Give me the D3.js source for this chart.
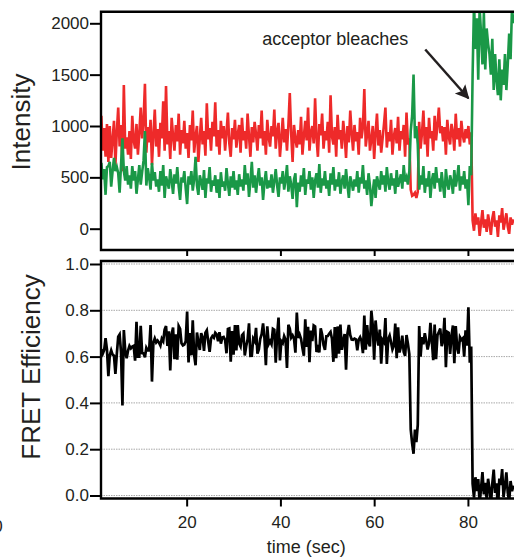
<!DOCTYPE html>
<html>
<head>
<meta charset="utf-8">
<script src="https://cdn.jsdelivr.net/npm/d3@7"></script>
<style>
  body { margin: 0; background: #fff; }
  svg { display: block; font-family: "Liberation Sans", Arial, Helvetica, sans-serif; }
  .tick text { fill: #231f20; }
</style>
</head>
<body>
<div id="chart"></div>
<script>
// sampling of the traces (sec)
var startTime = 1.8;
var frameInterval = 0.3;

// acceptor (red) intensity, one value per frame
var acceptor = [
  1100, 760, 980, 700, 1020, 650, 1000, 690, 870, 1050, 620, 940, 1180, 800, 1010, 560, 1400, 780, 890, 720,
  950, 680, 1100, 860, 780, 1020, 720, 930, 1180, 880, 1050, 1410, 740, 990, 840, 1060, 620, 910, 1160, 800,
  970, 700, 1030, 880, 1240, 760, 1390, 820, 950, 680, 1080, 900, 760, 1010, 850, 1120, 720, 960, 830, 1050,
  780, 930, 690, 1010, 860, 1150, 740, 900, 1000, 650, 880, 1080, 820, 950, 710, 1220, 870, 980, 760, 1040,
  900, 1230, 800, 960, 720, 1050, 880, 1000, 760, 940, 1130, 830, 700, 980, 870, 1060, 790, 920, 1010, 740,
  1080, 860, 950, 780, 1120, 900, 700, 990, 840, 1040, 920, 760, 1010, 880, 1150, 810, 950, 720, 1060, 890,
  800, 1000, 900, 1160, 780, 950, 1030, 700, 880, 1080, 840, 970, 760, 1010, 1320, 920, 650, 1010, 870, 790,
  960, 820, 1090, 720, 900, 1050, 860, 1180, 760, 940, 1000, 830, 1270, 880, 700, 1020, 910, 1120, 780, 950,
  860, 1040, 740, 1300, 900, 820, 990, 700, 1110, 870, 960, 780, 1050, 900, 690, 1000, 840, 1150, 930, 760,
  1010, 850, 940, 720, 1080, 880, 990, 1360, 800, 920, 1050, 760, 870, 1000, 680, 930, 1120, 810, 960, 740,
  880, 1020, 1180, 790, 940, 850, 1060, 720, 900, 980, 830, 1090, 760, 950, 870, 1010, 700, 1130, 820, 880,
  380, 320, 330, 350, 300, 360, 1040, 780, 930, 1150, 820, 990, 700, 1080, 880, 950, 760, 1100, 860, 1010,
  1180, 930, 1000, 850, 990, 720, 1060, 900, 820, 1020, 940, 760, 1120, 870, 980, 800, 1050, 910, 840, 970,
  880, 1000, 820, 940,
  80, -20, 150, 40, 110, -70, 60, 180, 10, 90, -30, 140, 50, -60, 100, 170, 20, 80, -80, 130,
  60, 200, -10, 70, 150, 20, -50, 110, 40, 90
];

// donor (green) intensity, one value per frame
var donor = [
  640, 480, 580, 330, 600, 610, 650, 410, 560, 690, 560, 600, 540, 350, 620, 880, 560, 470, 610, 430,
  520, 390, 610, 470, 560, 340, 480, 620, 430, 550, 660, 950, 420, 590, 500, 380, 640, 470, 550, 410,
  480, 360, 560, 420, 620, 300, 510, 450, 390, 580, 470, 340, 530, 440, 600, 410, 280, 500, 450, 560,
  390, 240, 510, 430, 560, 370, 480, 700, 420, 330, 520, 460, 380, 570, 300, 490, 440, 600, 360, 470,
  420, 520, 350, 480, 300, 550, 410, 460, 370, 590, 440, 320, 510, 400, 560, 380, 470, 330, 530, 410,
  480, 370, 620, 430, 540, 310, 460, 650, 400, 520, 350, 480, 590, 420, 500, 280, 450, 560, 390, 470,
  400, 530, 350, 460, 580, 420, 310, 500, 440, 560, 380, 470, 620, 360, 510, 430, 290, 480, 540, 210,
  450, 360, 520, 410, 590, 330, 480, 440, 560, 380, 500, 300, 470, 540, 400, 630, 350, 490, 420, 560,
  390, 470, 320, 540, 430, 600, 370, 480, 410, 550, 340, 460, 520, 390, 580, 430, 300, 510, 450, 370,
  480, 410, 560, 350, 500, 440, 620, 390, 470, 330, 540, 420, 220, 360, 480, 300, 510, 440, 380, 560,
  430, 520, 360, 600, 450, 380, 540, 420, 490, 340, 570, 410, 470, 530, 390, 620, 460, 500, 430, 560,
  950, 1100, 1500, 880, 1000, 820, 380, 520, 430, 610, 350, 490, 410, 560, 300, 470, 540, 390, 600, 450,
  490, 360, 550, 420, 300, 580, 440, 380, 520, 460, 340, 570, 410, 490, 620, 370, 510, 430, 560, 390,
  480, 230, 610, 520,
  1500, 2200, 1750, 2050, 1450, 2150, 1900, 1600, 2100, 1550, 1950, 1800, 1700, 1500, 1850, 1350, 1700, 1450, 1300, 1650,
  1250, 1550, 1400, 1700, 1350, 1600, 1900, 1650, 2150, 2000
];

var intensityTicks = [0, 500, 1000, 1500, 2000];
var fretTicks = [0, 0.2, 0.4, 0.6, 0.8, 1.0];
var timeTicks = [20, 40, 60, 80];

var annotation = { text: 'acceptor bleaches', x: 36.1, y: 1790, fromX: 70.9, fromY: 1745, toX: 80.1, toY: 1270 };

var width = 514, height = 558;
var frames = acceptor.map(function(a, i) {
  return { t: startTime + i * frameInterval, acceptor: a, donor: donor[i] };
});

var svg = d3.select('#chart').append('svg')
  .attr('width', width)
  .attr('height', height);

var textColor = '#231f20';

var x = d3.scaleLinear().domain([0, 90]).range([92.9, 514.8]);
var yInt = d3.scaleLinear().domain([0, 2000]).range([228.7, 23.3]);
var yFret = d3.scaleLinear().domain([0, 1]).range([495.5, 264]);

var panelTop = { left: 101, top: 11.8, bottom: 250 };
var panelBottom = { left: 101, top: 261, bottom: 498.5 };

// clip regions for the traces
var defs = svg.append('defs');
defs.append('clipPath').attr('id', 'clip-top').append('rect')
  .attr('x', panelTop.left).attr('y', panelTop.top)
  .attr('width', width - panelTop.left).attr('height', panelTop.bottom - panelTop.top);
defs.append('clipPath').attr('id', 'clip-bottom').append('rect')
  .attr('x', panelBottom.left).attr('y', panelBottom.top)
  .attr('width', width - panelBottom.left).attr('height', panelBottom.bottom - panelBottom.top);

defs.append('marker')
  .attr('id', 'arrow')
  .attr('viewBox', '0 -5 10 10')
  .attr('refX', 9)
  .attr('refY', 0)
  .attr('markerUnits', 'userSpaceOnUse')
  .attr('markerWidth', 18)
  .attr('markerHeight', 14)
  .attr('orient', 'auto')
  .append('path')
  .attr('d', 'M0,-5L10,0L0,5L2,0Z')
  .attr('fill', textColor);

// gridlines in the FRET panel
svg.append('g')
  .selectAll('line')
  .data(fretTicks).enter()
  .append('line')
  .attr('x1', panelBottom.left)
  .attr('x2', width)
  .attr('y1', function(d) { return yFret(d); })
  .attr('y2', function(d) { return yFret(d); })
  .attr('stroke', '#a8a8a8')
  .attr('stroke-width', 1)
  .attr('stroke-dasharray', '1.5,1');

// intensity traces
var lineAcc = d3.line()
  .x(function(d) { return x(d.t); })
  .y(function(d) { return yInt(d.acceptor); });
var lineDon = d3.line()
  .x(function(d) { return x(d.t); })
  .y(function(d) { return yInt(d.donor); });

var traces = svg.append('g').attr('clip-path', 'url(#clip-top)');
traces.append('path')
  .datum(frames)
  .attr('d', lineAcc)
  .attr('fill', 'none')
  .attr('stroke', '#ee2a2a')
  .attr('stroke-width', 2.6);
traces.append('path')
  .datum(frames)
  .attr('d', lineDon)
  .attr('fill', 'none')
  .attr('stroke', '#1a9847')
  .attr('stroke-width', 2.6);

// FRET efficiency = acceptor / (acceptor + donor)
var lineFret = d3.line()
  .x(function(d) { return x(d.t); })
  .y(function(d) { return yFret(d.acceptor / (d.acceptor + d.donor)); });

svg.append('g').attr('clip-path', 'url(#clip-bottom)')
  .append('path')
  .datum(frames)
  .attr('d', lineFret)
  .attr('fill', 'none')
  .attr('stroke', '#000')
  .attr('stroke-width', 2.7);

// panel frames (the right side runs off the picture)
function frame(p) {
  svg.append('path')
    .attr('d', 'M' + (width + 5) + ',' + p.top + 'H' + p.left + 'V' + p.bottom + 'H' + (width + 5))
    .attr('fill', 'none')
    .attr('stroke', '#000')
    .attr('stroke-width', 2.4);
}
frame(panelTop);
frame(panelBottom);

// axes
function styleAxis(g) {
  g.select('.domain').remove();
  g.selectAll('.tick line').attr('stroke', '#000').attr('stroke-width', 2);
  g.selectAll('.tick text').style('font-size', '17px');
}

svg.append('g')
  .attr('transform', 'translate(' + panelTop.left + ',0)')
  .call(d3.axisLeft(yInt).tickValues(intensityTicks).tickFormat(d3.format('d')).tickSize(11).tickPadding(1))
  .call(styleAxis);

svg.append('g')
  .attr('transform', 'translate(' + panelBottom.left + ',0)')
  .call(d3.axisLeft(yFret).tickValues(fretTicks).tickFormat(d3.format('.1f')).tickSize(11).tickPadding(1))
  .call(styleAxis);

svg.append('g')
  .attr('transform', 'translate(0,' + panelTop.bottom + ')')
  .call(d3.axisBottom(x).tickValues(timeTicks).tickSize(6).tickFormat(''))
  .call(styleAxis);

svg.append('g')
  .attr('transform', 'translate(0,' + panelBottom.bottom + ')')
  .call(d3.axisBottom(x).tickValues(timeTicks).tickSize(8).tickPadding(9))
  .call(styleAxis);

// stray zero label at the far left, half outside the picture as in the original
svg.append('text')
  .attr('x', -2)
  .attr('y', 531.5)
  .attr('text-anchor', 'middle')
  .attr('fill', textColor)
  .style('font-size', '17px')
  .text('0');

// axis titles
svg.append('text')
  .attr('transform', 'translate(30,122) rotate(-90)')
  .attr('text-anchor', 'middle')
  .attr('fill', textColor)
  .style('font-size', '26px')
  .text('Intensity');

svg.append('text')
  .attr('transform', 'translate(40,367) rotate(-90)')
  .attr('text-anchor', 'middle')
  .attr('fill', textColor)
  .style('font-size', '26px')
  .text('FRET Efficiency');

svg.append('text')
  .attr('x', x(45.5))
  .attr('y', 553)
  .attr('text-anchor', 'middle')
  .attr('fill', textColor)
  .style('font-size', '18px')
  .text('time (sec)');

// annotation
svg.append('text')
  .attr('x', x(annotation.x))
  .attr('y', yInt(annotation.y))
  .attr('fill', textColor)
  .style('font-size', '18px')
  .text(annotation.text);

svg.append('line')
  .attr('x1', x(annotation.fromX))
  .attr('y1', yInt(annotation.fromY))
  .attr('x2', x(annotation.toX))
  .attr('y2', yInt(annotation.toY))
  .attr('stroke', textColor)
  .attr('stroke-width', 2.5)
  .attr('marker-end', 'url(#arrow)');
</script>
</body>
</html>
